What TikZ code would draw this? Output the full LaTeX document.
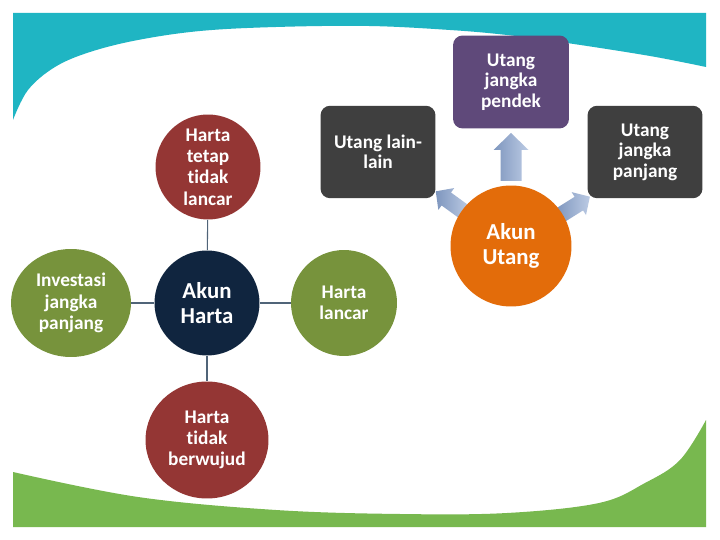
\documentclass[tikz,border=0pt]{standalone}
\usepackage{fontspec}
\setmainfont[RawFeature={-liga;-clig;-dlig;-calt}]{Carlito}
\usetikzlibrary{shapes.geometric,positioning}
\definecolor{tealband}{HTML}{1FB5C3}
\definecolor{greenband}{HTML}{78B84F}
\definecolor{navy}{HTML}{10253F}
\definecolor{brick}{HTML}{943634}
\definecolor{olive}{HTML}{77933C}
\definecolor{plum}{HTML}{5F497A}
\definecolor{charcoal}{HTML}{3F3F3F}
\definecolor{tangerine}{HTML}{E36C0A}
\definecolor{linkgray}{HTML}{506478}
\definecolor{arrowlight}{HTML}{BCCBE4}
\definecolor{arrowdark}{HTML}{7E96BE}

\begin{document}
\begin{tikzpicture}[x=0.02cm,y=-0.02cm,
  disc/.style={circle,inner sep=0pt,text=white,align=center,font=\bfseries\fontsize{11}{12.1}\selectfont},
  oval/.style={ellipse,inner sep=0pt,text=white,align=center,font=\bfseries\fontsize{11}{12.1}\selectfont},
  hub/.style={disc,font=\bfseries\fontsize{13}{14.3}\selectfont},
  tile/.style={rectangle,rounded corners=5.5pt,inner sep=0pt,text=white,align=center,
    minimum width=2.3cm,minimum height=1.85cm,font=\bfseries\fontsize{11}{11.6}\selectfont},
  link/.style={draw=linkgray,line width=0.6pt}]
\useasboundingbox[fill=white] (0,0) rectangle (720,540);
% ---- background bands ----
\fill[tealband] (13,13) -- (706,13) -- (706,67) -- plot[smooth,tension=0.6] coordinates
  {(706,67) (650,56) (567,43) (507,35) (450,30) (369,26) (276,27) (200,31) (138,40) (90,52) (55,67) (28,90) (13,120)} -- cycle;
\fill[greenband] (13,527) -- (13,472) -- plot[smooth,tension=0.6] coordinates
  {(13,472) (138,497) (276,510) (400,514) (507,513) (599,503) (645,483) (680,460) (706,420)} -- (706,527) -- cycle;
% ---- left: Akun Harta ----
\node[hub,fill=navy,minimum size=2.1cm] (harta) at (207,303) {Akun\\Harta};
\node[disc,fill=brick,minimum size=2.1cm] (tetap) at (208,167) {Harta\\tetap\\tidak\\lancar};
\node[oval,fill=olive,minimum width=2.4cm,minimum height=2.16cm] (investasi) at (71,303) {Investasi\\jangka\\panjang};
\node[disc,fill=olive,minimum size=2.12cm] (lancar) at (344,303) {Harta\\lancar};
\node[oval,fill=brick,minimum width=2.46cm,minimum height=2.34cm] (wujud) at (207,440) {Harta\\tidak\\berwujud};
\foreach \leaf in {tetap,investasi,lancar,wujud}
  \draw[link] (harta) -- (\leaf);
% ---- right: Akun Utang ----
\node[tile,fill=plum,minimum width=2.32cm,minimum height=1.86cm] (pendek) at (511,82) {Utang\\jangka\\pendek};
\node[tile,fill=charcoal] (lain) at (378,152) {Utang lain-\\lain};
\node[tile,fill=charcoal] (panjang) at (645,152) {Utang\\jangka\\panjang};
\coordinate (uc) at (511,246);
% block arrows: angle / start / head base / tip / shaft / head half width
\foreach \ang/\ra/\rb/\rc/\sw/\hw in {90/65/96/113/10.5/17.5, 144/58/80/93/8/13.5, 32/58/80/93/8/13.5}
  \shade[left color=arrowdark,right color=arrowlight,shift={(uc)},rotate=\ang]
    (\ra,-\sw) -- (\rb,-\sw) -- (\rb,-\hw) -- (\rc,0) -- (\rb,\hw) -- (\rb,\sw) -- (\ra,\sw) -- cycle;
\node[hub,fill=tangerine,minimum size=2.42cm] (utang) at (uc) {Akun\\Utang};
\end{tikzpicture}
\end{document}
